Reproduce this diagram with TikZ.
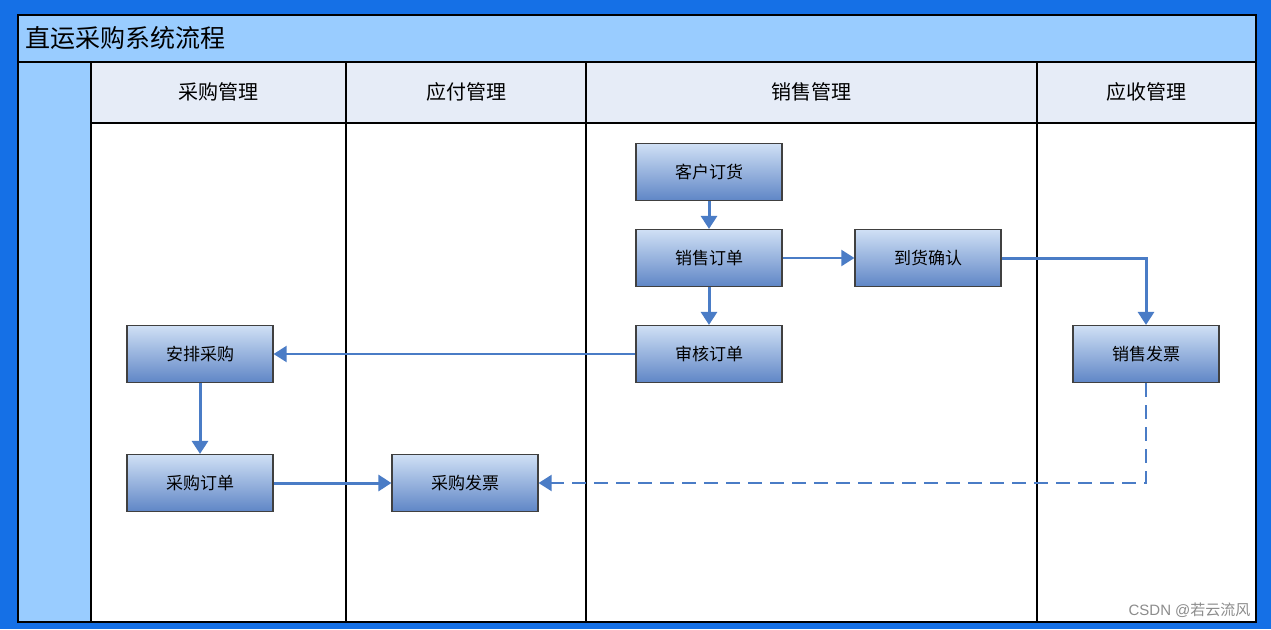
\documentclass[tikz,border=0pt]{standalone}
\usepackage{fontspec}
\newfontfamily\cjk{Noto Sans CJK SC}
\usetikzlibrary{arrows.meta}
\definecolor{bgblue}{HTML}{1570E6}
\definecolor{lblue}{HTML}{99CCFF}
\definecolor{hdr}{HTML}{E6ECF7}
\definecolor{arr}{HTML}{4A7CC6}
\definecolor{ntop}{HTML}{D0E0F5}
\definecolor{nbot}{HTML}{5F86C6}
\begin{document}
\begin{tikzpicture}[x=1pt,y=-1pt,
  box/.style={draw=black!75,line width=1.2pt,top color=ntop,bottom color=nbot,minimum width=146pt,minimum height=57pt,inner sep=0pt,font=\cjk\fontsize{17}{20}\selectfont},
  flow/.style={draw=arr,line width=3pt,-{Triangle[width=16pt,length=13pt]}},
  thin/.style={draw=arr,line width=2pt,-{Triangle[width=16pt,length=13pt]}},
  hd/.style={font=\cjk\fontsize{20}{24}\selectfont}]
\useasboundingbox (0,0) rectangle (1271,629);
\fill[bgblue] (0,0) rectangle (1271,629);
\fill[white] (18,15) rectangle (1256,622);
\fill[lblue] (18,15) rectangle (1256,62);
\fill[lblue] (18,62) rectangle (91,622);
\fill[hdr] (91,62) rectangle (1256,123);
\draw[line width=1.5pt] (18,15) rectangle (1256,622);
\draw[line width=1.2pt] (18,62) -- (1256,62);
\draw[line width=1.2pt] (91,123) -- (1256,123);
\foreach \x in {91,346,586,1037} \draw[line width=1.2pt] (\x,62) -- (\x,622);
\node[anchor=west,font=\cjk\fontsize{25}{30}\selectfont] (title) at (22,38) {直运采购系统流程};
\node[hd] (h1) at (218,92) {采购管理};
\node[hd] (h2) at (466,92) {应付管理};
\node[hd] (h3) at (811,92) {销售管理};
\node[hd] (h4) at (1146,92) {应收管理};
\node[box] (khdh) at (709,172) {客户订货};
\node[box] (xsdd) at (709,258) {销售订单};
\node[box] (shdd) at (709,354) {审核订单};
\node[box] (dhqr) at (928,258) {到货确认};
\node[box] (apcg) at (200,354) {安排采购};
\node[box] (cgdd) at (200,483) {采购订单};
\node[box] (cgfp) at (465,483) {采购发票};
\node[box] (xsfp) at (1146,354) {销售发票};
\node[anchor=south east,text=black!45,font=\fontspec{Liberation Sans}\fontsize{15}{18}\selectfont] (wm) at (1254,621) {CSDN @{\cjk 若云流风}};
\draw[flow] (khdh) -- (xsdd);
\draw[flow] (xsdd) -- (shdd);
\draw[thin] (xsdd) -- (dhqr);
\draw[thin] (shdd) -- (apcg);
\draw[flow] (apcg) -- (cgdd);
\draw[flow] (cgdd) -- (cgfp);
\draw[flow] (dhqr.east) -| (xsfp.north);
\draw[thin,dash pattern=on 14pt off 8pt] (xsfp.south) |- (cgfp.east);
\end{tikzpicture}
\end{document}
